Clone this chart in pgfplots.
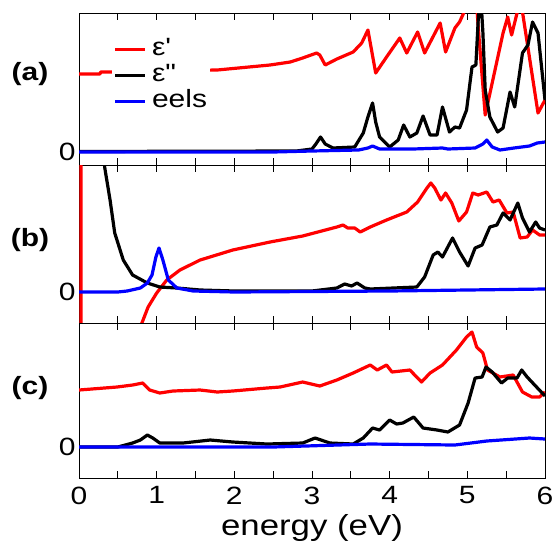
\documentclass[border=0pt]{standalone}
\usepackage{pgfplots}
\pgfplotsset{compat=1.18}
\usepackage{fontspec}
\setmainfont{Liberation Sans}[FakeStretch=1.2]

\pgfplotsset{
  panel/.style={
    scale only axis, width=466pt,
    xmin=0, xmax=6,
    xtick={0,...,6}, minor xtick={0.5,1.5,...,5.5},
    tick align=inside, xtick pos=both, ytick pos=left,
    major tick length=7pt, minor tick length=7pt,
    ytick={0},
    tick label style={font=\fontsize{25}{25}\selectfont},
    xticklabel style={yshift=-5pt},
    /pgf/number format/assume math mode=true,
    axis line style={line width=0.8pt},
    every tick/.style={line width=0.8pt, black},
  },
  eps1/.style={red, line width=3.2pt, line join=round},
  eps2/.style={black, line width=3.2pt, line join=round},
  eels/.style={blue, line width=3.2pt, line join=round},
}

\begin{document}
\begin{tikzpicture}[x=1pt,y=1pt]
\path[use as bounding box] (0,0) rectangle (553,-547);

%% (a)
\begin{axis}[panel, at={(79pt,-13pt)}, anchor=north west, height=152pt,
  ymin=-13, ymax=139, xticklabels={},
  legend style={draw=none, fill=white, at={(0.07,0.86)}, anchor=north west,
    font=\fontsize{25}{25}\selectfont, inner sep=2pt,
    nodes={text height=18pt, text depth=6pt, inner sep=1pt},
    column sep=4pt},
  legend cell align=left,
  legend image code/.code={\draw[#1] (0pt,0pt) -- (30pt,0pt);},
]
\addplot[eps1] coordinates {
 (0,78) (0.27,78) (0.28,80) (0.40,80) (1.00,81) (1.78,82) (2.46,87) (2.72,90)
 (2.88,94) (3.06,99) (3.10,97) (3.17,87) (3.32,93) (3.53,100) (3.64,109) (3.72,122)
 (3.82,79) (3.96,95) (4.13,114) (4.22,99) (4.36,120) (4.45,99) (4.65,129) (4.72,100)
 (4.84,124) (4.90,130) (4.97,142) (5.02,150) (5.12,148) (5.14,125) (5.23,37)
 (5.46,119) (5.52,135) (5.57,117) (5.65,142) (5.71,140) (5.91,39) (6.00,52)
};
\addlegendentry{ε\textquotesingle}
\addplot[eps2] coordinates {
 (0,0.5) (2.80,1) (3.00,3) (3.05,8) (3.11,15) (3.17,8) (3.27,4) (3.55,5) (3.66,19)
 (3.72,35) (3.78,49) (3.82,30) (3.87,15) (4.00,5) (4.11,12) (4.18,27) (4.26,15)
 (4.35,19) (4.43,36) (4.52,17) (4.61,17) (4.68,45) (4.77,20) (4.84,25) (4.90,24)
 (4.99,42) (5.06,85) (5.11,87) (5.14,132) (5.17,160) (5.20,120) (5.23,62) (5.29,35)
 (5.39,20) (5.46,24) (5.55,60) (5.61,45) (5.71,99) (5.78,107) (5.84,130) (5.91,119)
 (6.00,52)
};
\addlegendentry{ε\textquotedbl}
\addplot[eels] coordinates {
 (0,0) (2.50,0) (3.00,1) (3.60,2) (3.72,4) (3.78,6) (3.87,3) (4.30,3) (4.68,4)
 (4.75,3) (5.10,4) (5.20,8) (5.25,12) (5.32,5) (5.42,2) (5.60,4) (5.80,6) (5.90,9)
 (6.00,10)
};
\addlegendentry{eels}
\end{axis}

%% (b)
\begin{axis}[panel, at={(79pt,-165pt)}, anchor=north west, height=158pt,
  ymin=-31, ymax=127, xticklabels={}]
\addplot[eps1] coordinates {
 (0.025,300) (0.025,-300) (0.70,-60) (0.81,-31) (0.89,-15) (1.00,-1) (1.13,12)
 (1.30,22) (1.56,32) (1.98,42) (2.46,50) (2.88,56) (3.32,65) (3.40,67) (3.46,64)
 (3.55,64) (3.62,60) (3.75,65) (3.96,72) (4.22,80) (4.36,90) (4.48,104) (4.53,109)
 (4.58,104) (4.66,92) (4.72,99) (4.80,89) (4.89,71) (4.99,80) (5.07,99) (5.14,97)
 (5.25,100) (5.33,90) (5.41,92) (5.51,79) (5.59,80) (5.68,54) (5.77,55) (5.84,62)
 (5.93,57) (6.00,57)
};
\addplot[eps2] coordinates {
 (0.30,200) (0.33,125) (0.40,92) (0.46,59) (0.57,32) (0.69,17) (0.88,9) (1.04,5)
 (1.26,4) (1.56,2) (2.00,1) (3.00,1) (3.32,4) (3.42,8) (3.51,6) (3.58,9) (3.68,4)
 (3.75,3) (4.35,5) (4.45,15) (4.56,37) (4.62,40) (4.68,35) (4.81,54) (4.90,40)
 (5.01,26) (5.10,44) (5.19,47) (5.29,65) (5.38,67) (5.46,79) (5.55,72) (5.65,89)
 (5.71,74) (5.80,60) (5.88,70) (5.93,64) (6.00,62)
};
\addplot[eels] coordinates {
 (0,0) (0.50,0) (0.62,1) (0.79,4) (0.88,9) (0.94,17) (0.99,35) (1.03,44) (1.08,32)
 (1.15,12) (1.26,4) (1.47,1) (2.00,0) (4.00,1) (5.00,2) (6.00,3)
};
\end{axis}

%% (c)
\begin{axis}[panel, at={(79pt,-323pt)}, anchor=north west, height=155pt,
  ymin=-31, ymax=124,
  xlabel={energy (eV)},
  xlabel style={font=\fontsize{29}{29}\selectfont, yshift=-3pt},
]
\addplot[eps1] coordinates {
 (0,57) (0.49,60) (0.69,62) (0.82,64) (0.91,57) (1.04,54) (1.21,56) (1.56,57)
 (1.78,55) (1.98,56) (2.42,59) (2.59,60) (2.88,65) (3.10,61) (3.32,67) (3.53,74)
 (3.75,82) (3.84,77) (3.96,82) (4.03,75) (4.26,77) (4.41,65) (4.52,74) (4.68,82)
 (4.86,97) (4.99,110) (5.06,115) (5.12,100) (5.20,94) (5.26,77) (5.42,70) (5.59,72)
 (5.71,55) (5.83,50) (5.93,50) (6.00,55)
};
\addplot[eps2] coordinates {
 (0,0) (0.50,0) (0.69,4) (0.79,7) (0.88,12) (0.95,9) (1.04,4) (1.34,4) (1.69,7)
 (1.98,5) (2.42,3) (2.88,4) (3.04,9) (3.23,4) (3.53,3) (3.66,9) (3.78,19) (3.87,17)
 (4.00,27) (4.09,23) (4.17,24) (4.31,30) (4.43,19) (4.61,17) (4.75,15) (4.90,22)
 (5.01,44) (5.10,69) (5.19,70) (5.24,80) (5.32,75) (5.44,64) (5.52,69) (5.64,69)
 (5.70,77) (5.77,70) (6.00,51)
};
\addplot[eels] coordinates {
 (0,0) (2.50,0) (3.75,3) (4.84,2) (5.25,6) (5.80,9) (6.00,8)
};
\end{axis}

\node[font=\bfseries\fontsize{25}{25}\selectfont] at (30,-74) {(a)};
\node[font=\bfseries\fontsize{25}{25}\selectfont] at (30,-240) {(b)};
\node[font=\bfseries\fontsize{25}{25}\selectfont] at (30,-388) {(c)};
\end{tikzpicture}
\end{document}
